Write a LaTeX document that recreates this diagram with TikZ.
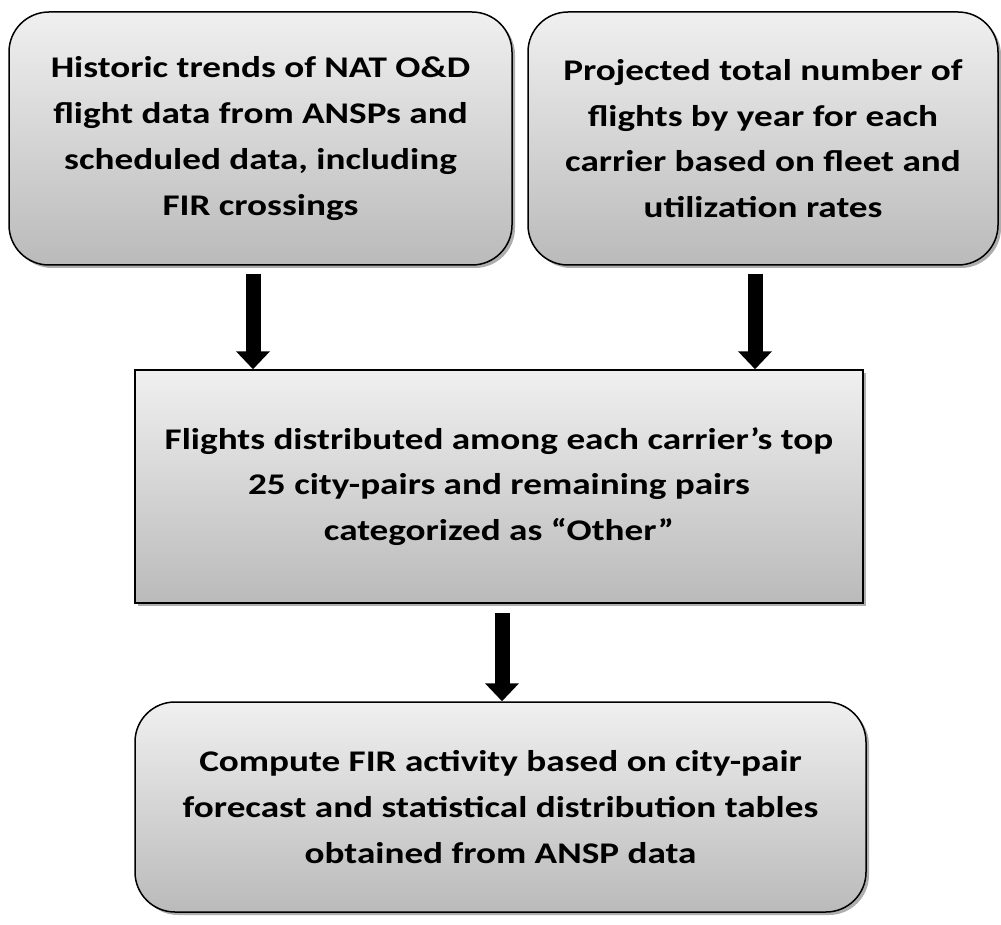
\documentclass[tikz,border=0pt]{standalone}
\usepackage{fontspec}
\setmainfont{Carlito}
\newfontfamily\boxfont[FakeStretch=1.24]{Carlito}
\usetikzlibrary{arrows.meta,shadows,calc}
\begin{document}
\begin{tikzpicture}[x=1pt,y=-1pt,
  box/.style={draw=black, line width=1.5pt, top color=black!6, bottom color=black!27,
    align=center, inner sep=0pt, text=black,
    font=\boxfont\fontsize{30}{45.7}\selectfont\bfseries,
    drop shadow={shadow xshift=3pt, shadow yshift=-3pt, fill=black!70, opacity=0.45}},
  roundbox/.style={box, rounded corners=40pt},
  flowarrow/.style={line width=15pt, black, -{Triangle[width=33pt,length=18pt]}}
]
\useasboundingbox (0,0) rectangle (1001,925);

% input boxes
\node[roundbox, minimum width=503pt, minimum height=253pt] (hist) at (260.5,138.5)
  {Historic trends of NAT O\&D\\flight data from ANSPs and\\scheduled data, including\\FIR crossings};
\node[roundbox, minimum width=470pt, minimum height=253pt] (proj) at (763,138.5)
  {Projected total number of\\flights by year for each\\carrier based on fleet and\\utilization rates};

% distribution step
\node[box, minimum width=728pt, minimum height=233pt] (dist) at (499,486.5)
  {Flights distributed among each carrier’s top\\25 city-pairs and remaining pairs\\categorized as “Other”};

% final computation
\node[roundbox, minimum width=731pt, minimum height=210pt] (fir) at (500.5,807)
  {Compute FIR activity based on city-pair\\forecast and statistical distribution tables\\obtained from ANSP data};

% arrow columns
\coordinate (xl) at (253,0);
\coordinate (xr) at (755,0);
\coordinate (xm) at (502,0);

\draw[flowarrow] ($(hist.south -| xl)+(0,8)$) -- (dist.north -| xl);
\draw[flowarrow] ($(proj.south -| xr)+(0,8)$) -- (dist.north -| xr);
\draw[flowarrow] ($(dist.south -| xm)+(0,9)$) -- (fir.north -| xm);
\end{tikzpicture}
\end{document}
